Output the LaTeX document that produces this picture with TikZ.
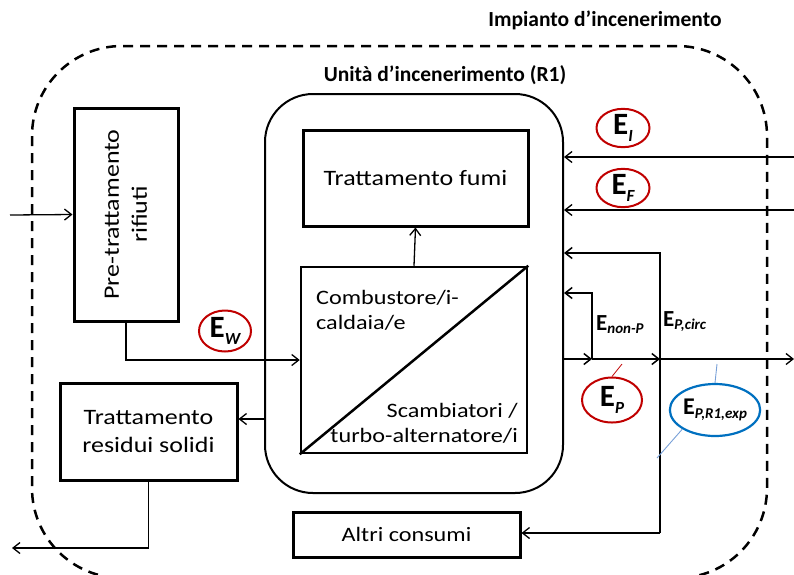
\documentclass[tikz,border=0pt]{standalone}
\usepackage{fontspec}
\setmainfont{Carlito}[FakeStretch=1.18]
\newfontfamily\titlef{Carlito}
\usetikzlibrary{arrows.meta,shapes.geometric}
\definecolor{ered}{RGB}{192,0,0}
\definecolor{eblue}{RGB}{0,112,192}
\definecolor{lblue}{RGB}{120,160,215}
\tikzset{
  boxthick/.style={draw, line width=3pt, inner sep=2pt, align=center, font=\fontsize{22}{28}\selectfont},
  arr/.style={line width=1.3pt, -{Straight Barb[length=7pt,width=11pt,line width=1.3pt]}},
  arrthick/.style={line width=2pt, -{Straight Barb[length=7pt,width=11pt,line width=1.5pt]}},
  redell/.style={draw=ered, line width=2pt, ellipse, inner sep=0pt},
  blueell/.style={draw=eblue, line width=2.2pt, ellipse, inner sep=0pt},
  titletxt/.style={font=\titlef\bfseries\fontsize{21.5}{24}\selectfont},
  lbl/.style={inner sep=0pt, anchor=west}
}
\newcommand{\Ebig}[1]{{\titlef\bfseries\fontsize{31}{31}\selectfont E}\raisebox{-7pt}{\titlef\bfseries\itshape\fontsize{17}{17}\selectfont #1}}
\newcommand{\Emid}[1]{{\titlef\bfseries\fontsize{24}{24}\selectfont E}\raisebox{-4pt}{\titlef\bfseries\itshape\fontsize{15}{15}\selectfont #1}}
\newcommand{\Esmall}[1]{{\titlef\bfseries\fontsize{23}{23}\selectfont E}\raisebox{-3pt}{\titlef\bfseries\itshape\fontsize{15}{15}\selectfont #1}}
\begin{document}
\begin{tikzpicture}[x=1pt,y=-1pt]
\useasboundingbox (0,0) rectangle (794,574);
% outer dashed
\draw[line width=2.5pt, dash pattern=on 10pt off 7pt, rounded corners=90pt] (32,46) rectangle (767,578);
% titles
\node[titletxt] (t1) at (605,20) {Impianto d’incenerimento};
\node[titletxt] (t2) at (445,75) {Unità d’incenerimento (R1)};
% inner unit
\node[draw, line width=2pt, rounded corners=48pt, minimum width=298pt, minimum height=399pt, inner sep=0pt] (unit) at (414,293.5) {};
% boxes
\node[boxthick, rotate=90, minimum width=213pt, minimum height=104pt] (pre) at (126,214.5) {Pre-trattamento\\rifiuti};
\node[boxthick, minimum width=225pt, minimum height=96pt] (fumi) at (415.5,178) {Trattamento fumi};
\node[draw, line width=2.5pt, minimum width=226pt, minimum height=186pt, inner sep=0pt] (comb) at (414,360) {};
\draw[line width=2.5pt] (comb.south west) -- (comb.north east);
\node[align=left, anchor=west, inner sep=0pt, font=\fontsize{20.5}{25}\selectfont] (ctxt) at (316,310) {Combustore/i-\\caldaia/e};
\node[align=right, anchor=east, inner sep=0pt, font=\fontsize{20.5}{25}\selectfont] (stxt) at (518,423) {Scambiatori /\\turbo-alternatore/i};
\node[boxthick, minimum width=177pt, minimum height=97pt] (res) at (148.5,431.5) {Trattamento\\residui solidi};
\node[boxthick, minimum width=227pt, minimum height=45pt, font=\fontsize{20.5}{24}\selectfont] (altri) at (406.5,534.5) {Altri consumi};
% coordinates
\coordinate (inL) at (10,215);
\coordinate (outSW) at (12,548);
\coordinate (rI) at (794,157);
\coordinate (rF) at (794,210);
\coordinate (j1) at (592,359);
\coordinate (j2) at (660,359);
\coordinate (rP) at (794,359);
\coordinate (t660) at (660,253);
\coordinate (t592) at (592,293);
\coordinate (b660) at (660,533);
\coordinate (uE) at (563,359);
\coordinate (uW) at (265,419);
% connectors left
\draw[arr] (inL) -- (pre.north);
\draw[arr] (pre.west) |- (comb.west);
\draw[arr] (comb.north) -- (fumi.south);
\draw[arr] (uW) -- (uW -| res.east);
\draw[arr] (res.south) |- (outSW);
% right side
\draw[arr] (rI) -- (rI -| unit.east);
\draw[arr] (rF) -- (rF -| unit.east);
\draw[arrthick] (uE) -- (j1);
\draw[arrthick] (j1) -- (j2);
\draw[arr] (j2) -- (rP);
\draw[arrthick] (j2) -- (t660) -- (t660 -| unit.east);
\draw[arrthick] (j1) -- (t592) -- (t592 -| unit.east);
\draw[line width=2pt] (j2) -- (b660);
\draw[arr] (b660) -- (b660 -| altri.east);
% labels
\node[redell, minimum width=52pt, minimum height=41pt] (EW) at (225,331) {\Ebig{W}};
\node[redell, minimum width=53pt, minimum height=37pt] (EI) at (623,128) {\Ebig{I}};
\node[redell, minimum width=53pt, minimum height=37pt] (EF) at (623,188) {\Ebig{F}};
\node[redell, minimum width=60pt, minimum height=45pt] (EP) at (612,400) {\Ebig{P}};
\node[blueell, minimum width=90pt, minimum height=52pt] (EPR) at (715,410) {\Emid{P,R1,exp}};
\node[lbl] (Enp) at (596,325) {\Esmall{non-P}};
\node[lbl] (Epc) at (663,322) {\Esmall{P,circ}};
\coordinate (lp) at (622,364);
\coordinate (lb1) at (717,364);
\coordinate (lb2) at (657,458);
\draw[ered, line width=0.8pt] (EP.north) -- (lp);
\draw[lblue, line width=0.9pt] (EPR.north) -- (lb1);
\draw[lblue, line width=0.9pt] (EPR.south west) -- (lb2);
\end{tikzpicture}
\end{document}
